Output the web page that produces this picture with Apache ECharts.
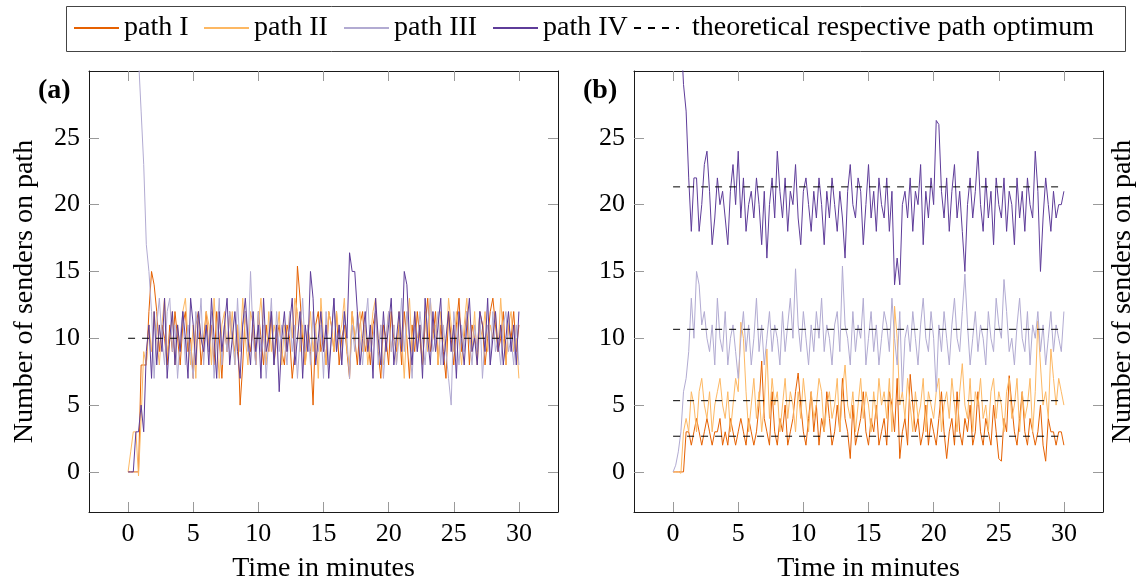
<!DOCTYPE html>
<html><head><meta charset="utf-8">
<script src="https://cdn.jsdelivr.net/npm/echarts@6/dist/echarts.min.js"></script>
<style>html,body{margin:0;padding:0;background:#fff}#c{width:1142px;height:580px}</style>
</head><body><div id="c"></div><script>
// ---- data ----
const STEP = 0.2; // minutes between samples
const xTicks = [0, 5, 10, 15, 20, 25, 30];
const yTicks = [0, 5, 10, 15, 20, 25];
const seriesNames = ['path I', 'path II', 'path III', 'path IV'];
const optimumName = 'theoretical respective path optimum';
const optimumA = [10];
const optimumB = [2.67, 5.33, 10.67, 21.33];

// panel (a)
const a1 = [0,0,0,0,0,8,8,8,12,15, 14,12,9,11,10,8,11,9,12,10, 8,11,12,9,10,7,11,12,8,10, 12,9,11,8,12,10,7,11,9,12,
  10,9,11,5,8,12,10,9,11,8, 12,10,8,11,9,12,8,10,11,9, 8,11,10,7,9,15.4,13,10,8,11, 9,5,11,12,9,10,8,12,11,9,
  12,8,10,11,9,7,12,10,8,11, 12,9,10,8,11,12,9,7,11,10, 8,12,10,9,11,8,12,10,7,11, 9,12,10,8,11,13,9,10,12,8,
  11,9,7,12,10,8,11,13,9,10, 12,8,11,10,9,12,11,8,10,12, 13,11,9,10,12,8,11,10,12,9,11];
const a2 = [0,1.5,3,3,-0.3,4,9,8,11,9, 12,10,8,11,13,9,10,12,8,11, 9,12,13,10,8,11,7,12,10,9, 12,11,8,13,10,7,11,12,9,10,
  12,8,11,9,13,10,8,12,11,9, 11,13,10,8,12,9,11,10,12,8, 11,9,12,10,13,12,9,11,8,10, 12,9,11,7,13,10,8,12,11,9,
  12,10,11,13,9,8,12,10,11,12, 9,11,8,10,12,13,9,11,8,10, 12,9,11,8,12,10,7,11,13,9, 12,10,11,8,12,9,13,10,11,8,
  12,10,9,13,11,9,12,10,8,11, 13,10,9,12,8,11,10,12,9,11, 10,12,9,13,10,8,11,12,9,10,7];
const a3 = [45,42,38,34,31,27,23,17,15,12, 7,11,13,10,8,12,13,9,11,7, 10,12,8,11,9,7,12,10,13,8, 11,9,12,7,10,13,8,11,9,12,
  10,8,13,9,11,12,9,15,10,8, 12,9,11,7,10,13,8,12,9,11, 10,8,12,9,11,7,10,13,9,11, 8,12,10,9,11,7,12,8,10,13,
  9,11,8,12,10,7,11,9,12,10, 8,11,13,9,10,12,8,11,7,10, 12,9,11,8,10,13,9,12,10,7, 11,9,12,10,8,11,13,9,10,12,
  8,11,9,7,5,12,10,8,11,9, 12,10,8,11,9,12,7,10,11,8, 12,9,10,8,11,12,9,10,8,11,8];
const a4 = [0,0,0,3,3,5,3,9,11,7, 12,8,11,9,13,7,10,12,8,11, 9,12,10,7,13,11,8,12,10,9, 11,8,13,10,7,12,9,11,13,8,
  10,12,9,7,11,13,10,8,12,9, 11,7,13,9,10,12,8,11,6,10, 12,9,11,13,8,10,12,7,11,9, 15,13,8,10,12,9,11,7,10,13,
  9,11,8,12,10,16.4,15,15,12,8, 10,12,9,11,7,13,10,8,12,9, 11,13,8,10,12,9,15,14,10,8, 12,9,11,7,13,10,8,12,9,11,
  13,8,10,12,9,11,7,12,10,8, 11,13,9,10,8,12,11,9,13,8, 10,12,9,11,8,10,12,9,11,8,12];

// panel (b)
const b1 = [0,0,0,0,0,3,3,2,3,4, 3,2,3,4,3,2,3,3,4,2, 3,2,4,3,2,3,4,3,2,4, 3,2,3,5,8.3,4,3,2,6,3,
  2,4,3,5,2,3,4,6,7.4,5, 3,2,4,6,3,5,2,4,3,6, 4,2,3,5,3,7,4,3,1,5, 2,3,4,6,3,2,4,3,5,2,
  3,4,2,6,5,3,7,1,3,4, 2,7.3,5,3,4,2,3,5,2,4, 3,2,4,6,3,1,3,4,2,6, 3,2,4,3,5,2,3,6,3,2,
  4,3,2,5,3,1,0.8,4,3,7.2, 5,3,2,4,6,3,2,4,3,2, 3,5,2,0.8,4,3,3,2,3,3,2];
const b2 = [0,0,0,-0.1,3,4,3,6,5,3, 6,7,5,4,6,3,5,6,7,5, 4,6,3,5,7,6,11.2,10,6,3, 5,7,4,6,3,5,9.2,4,7,5,
  6,3,5,7,4,6,5,3,6,4, 7,5,3,6,4,5,7,6,3,5, 6,4,5,7,3,6,8,5,4,6, 3,5,7,4,6,5,3,6,4,7,
  5,6,4,7,3,12.4,10,5,6,4, 7,5,3,6,4,5,7,3,6,5, 4,6,7,3,5,6,4,7,5,3, 6,8.1,5,4,7,3,6,5,7,4,
  5,3,6,7,4,6,5,3,6,7, 4,5,7,3,6,4,5,7,3,6, 11.3,8,5,6,4,9.2,7,5,7,6,5];
const b3 = [0,0.5,1.5,3,6,7,9,13,10,15, 14,11,12,10,9,11,8,13,10,9, 12,8,10,11,9,7,10,12,9,11, 8,10,13,9,11,8,10,12,9,11,
  10,8,12,9,11,13,10,15.2,11,9, 12,10,8,11,9,12,10,13,9,11, 10,8,11,12,9,15.4,11,10,8,12, 9,11,10,13,8,10,12,9,11,8,
  10,12,11,9,13,10,8,12,6,10, 11,9,12,10,8,11,13,10,9,12, 10,6,11,9,12,10,8,11,13,10, 9,12,14.8,11,8,10,12,9,11,10,
  8,12,10,9,13,11,10,14.4,12,9, 10,8,11,13,10,9,12,8,11,10, 12,9,11,8,10,12,9,11,10,9,12];
const b4 = [45,41,37,33,29,27,22,18,22,22, 18,20,23,24,21,17,19,22,20,21, 19,17,21,23,20,24,19,22,18,20, 21,19,22,20,17,21,16,20,22,19,
  24,21,19,22,18,21,20,23,19,17, 21,22,20,18,21,19,22,20,17,21, 19,22,20,18,21,19,16,21,23,20, 19,22,21,17,20,23,19,21,18,22,
  20,19,22,18,21,14,16,14,20,21, 19,22,18,21,20,23,17,21,19,22, 20,26.3,26,21,19,22,18,21,23,19, 21,18,15,20,22,19,21,24,20,18,
  22,19,21,17,22,20,19,22,18,21, 20,17,22,19,21,18,22,20,19,24, 21,15,19,22,20,18,21,19,20,20,21];

const panelA = [a1, a2, a3, a4];
const panelB = [b1, b2, b3, b4];

// ---- styles ----
const colors = ['#e66101', '#fdb863', '#b2abd2', '#5e3c99'];
const FONT = "'Liberation Serif', 'Times New Roman', serif";
const AXIS_COLOR = '#1a1a1a';
const TICK_COLOR = '#9a9a9a';

function pairs(arr) { return arr.map((v, i) => [Math.round(i * STEP * 100) / 100, v]); }

function xAxis(gridIndex, top, withName) {
  return {
    type: 'value', gridIndex, min: -3, max: 33, position: top ? 'top' : 'bottom',
    axisLine: { show: true, onZero: false, lineStyle: { color: AXIS_COLOR, width: 1 } },
    axisTick: { show: true, inside: true, length: 10, customValues: xTicks, lineStyle: { color: TICK_COLOR, width: 1 } },
    axisLabel: { show: !top, customValues: xTicks, margin: 9, fontFamily: FONT, fontSize: 26, color: '#000' },
    splitLine: { show: false },
    name: withName ? 'Time in minutes' : '', nameLocation: 'middle', nameGap: 43,
    nameTextStyle: { fontFamily: FONT, fontSize: 28, color: '#000' }
  };
}
function yAxis(gridIndex, right, showLabels, name, nameGap) {
  return {
    type: 'value', gridIndex, min: -3, max: 30, position: right ? 'right' : 'left',
    axisLine: { show: true, onZero: false, lineStyle: { color: AXIS_COLOR, width: 1 } },
    axisTick: { show: true, inside: true, length: 10, customValues: yTicks, lineStyle: { color: TICK_COLOR, width: 1 } },
    axisLabel: { show: showLabels, customValues: yTicks, margin: 9, fontFamily: FONT, fontSize: 26, color: '#000' },
    splitLine: { show: false },
    name: name || '', nameLocation: 'middle', nameGap: nameGap || 0, nameRotate: 90,
    nameTextStyle: { fontFamily: FONT, fontSize: 28, color: '#000' }
  };
}

const series = [];
function addPanel(data, xi, yi, optima) {
  data.forEach((arr, k) => {
    series.push({
      name: seriesNames[k], type: 'line', xAxisIndex: xi, yAxisIndex: yi,
      data: pairs(arr), symbol: 'none', clip: true,
      lineStyle: { color: colors[k], width: 1 }, itemStyle: { color: colors[k] }
    });
  });
  optima.forEach(v => {
    series.push({
      name: optimumName, type: 'line', xAxisIndex: xi, yAxisIndex: yi,
      data: [[0, v], [30, v]], symbol: 'none',
      lineStyle: { color: '#000', width: 1, type: [7, 7] }, itemStyle: { color: '#000' }
    });
  });
}
addPanel(panelA, 0, 0, optimumA);
addPanel(panelB, 2, 2, optimumB);

const legendBase = {
  orient: 'horizontal', top: 14, padding: 0, itemGap: 0, itemWidth: 45, itemHeight: 14,
  selectedMode: false, itemStyle: { opacity: 0 },
  textStyle: { fontFamily: FONT, fontSize: 28, color: '#000' }
};
const legendLefts = [73, 203, 343, 492, 633];
const legendNames = seriesNames.concat([optimumName]);

const chart = echarts.init(document.getElementById('c'), null, { renderer: 'canvas' });
chart.setOption({
  animation: false,
  backgroundColor: '#fff',
  grid: [
    { left: 89, top: 71, width: 469, height: 441, containLabel: false, outerBoundsMode: 'none' },
    { left: 634, top: 71, width: 469, height: 441, containLabel: false, outerBoundsMode: 'none' }
  ],
  xAxis: [xAxis(0, false, true), xAxis(0, true, false), xAxis(1, false, true), xAxis(1, true, false)],
  yAxis: [
    yAxis(0, false, true, 'Number of senders on path', 50),
    yAxis(0, true, false),
    yAxis(1, false, true),
    yAxis(1, true, false, 'Number of senders on path', 6)
  ],
  legend: legendNames.map((n, i) => Object.assign({}, legendBase, {
    data: [n], left: legendLefts[i],
    textStyle: Object.assign({}, legendBase.textStyle, i === 4 ? { padding: [0, 0, 0, 8] } : {})
  })),
  graphic: [
    { type: 'rect', left: 64, top: 4, shape: { x: 0, y: 0, width: 1059, height: 45 },
      style: { fill: 'none', stroke: '#444', lineWidth: 1 }, z: 100 },
    { type: 'text', left: 38, top: 77, style: { text: '(a)', font: "bold 28px 'Liberation Serif', serif", fill: '#000' } },
    { type: 'text', left: 583, top: 77, style: { text: '(b)', font: "bold 28px 'Liberation Serif', serif", fill: '#000' } }
  ],
  series
});
</script></body></html>
